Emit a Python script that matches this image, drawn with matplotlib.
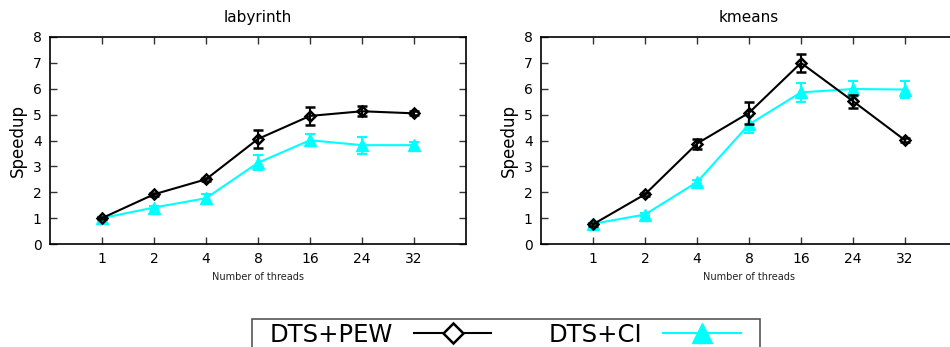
import matplotlib
matplotlib.use("Agg")
import matplotlib.pyplot as plt
from matplotlib.lines import Line2D
from matplotlib.patches import Rectangle

plt.rcParams['font.family'] = ['DejaVu Sans']

threads = ["1", "2", "4", "8", "16", "24", "32"]

lab_pew = [1.0, 1.92, 2.50, 4.06, 4.95, 5.13, 5.05]
lab_pew_err = [0.05, 0.07, 0.07, 0.36, 0.36, 0.19, 0.08]
lab_ci = [1.0, 1.41, 1.77, 3.14, 4.01, 3.82, 3.82]
lab_ci_err = [0.05, 0.05, 0.18, 0.29, 0.23, 0.33, 0.14]

km_pew = [0.76, 1.92, 3.88, 5.07, 7.0, 5.52, 4.01]
km_pew_err = [0.05, 0.05, 0.19, 0.42, 0.35, 0.25, 0.07]
km_ci = [0.78, 1.14, 2.39, 4.62, 5.86, 5.99, 5.97]
km_ci_err = [0.05, 0.05, 0.07, 0.32, 0.37, 0.30, 0.34]

titles = ["labyrinth", "kmeans"]
series_names = ["DTS+PEW", "DTS+CI"]
CYAN = "#00ffff"

fig = plt.figure(figsize=(9.5, 3.47), dpi=100)
ax1 = fig.add_axes([50/950, 103/347, 416/950, 207/347])
ax2 = fig.add_axes([541/950, 103/347, 416/950, 207/347])

xs = list(range(1, len(threads) + 1))
for ax, title, pew, pewe, ci, cie in [
    (ax1, titles[0], lab_pew, lab_pew_err, lab_ci, lab_ci_err),
    (ax2, titles[1], km_pew, km_pew_err, km_ci, km_ci_err),
]:
    ax.errorbar(xs, pew, yerr=pewe, color="black", lw=1.5, marker="D",
                ms=5.5, mfc="none", mec="black", mew=1.8, capsize=3.5,
                elinewidth=1.5, capthick=1.5, zorder=3)
    ax.errorbar(xs, ci, yerr=cie, color=CYAN, lw=1.5, marker="^",
                ms=8, mfc=CYAN, mec=CYAN, capsize=3.5,
                elinewidth=1.5, capthick=1.5, zorder=2)
    ax.set_xlim(0, 8)
    ax.set_ylim(0, 8)
    ax.set_xticks(xs)
    ax.set_xticklabels(threads)
    ax.set_yticks(range(0, 9))
    ax.tick_params(direction="in", top=True, right=True, length=5,
                   width=1, labelsize=10, pad=6, color="#333333")
    ax.tick_params(axis="x", pad=6)
    for sp in ax.spines.values():
        sp.set_linewidth(1.2)
    ax.set_title(title, fontsize=11, pad=11)
    ax.set_ylabel("Speedup", fontsize=12, labelpad=4)
    ax.set_xlabel("Number of threads", fontsize=7, labelpad=4, color="#222222")

# Legend (contents without frame, frame drawn separately)
h1 = Line2D([], [], color="black", lw=1.5, marker="D", ms=10, mfc="white",
            mec="black", mew=1.8)
h2 = Line2D([], [], color=CYAN, lw=1.5, marker="^", ms=15, mfc=CYAN, mec=CYAN)
leg = fig.legend([h1, h2], series_names, loc="upper left",
                 bbox_to_anchor=(266/950, 1 - 319/347),
                 ncol=2, markerfirst=False, fontsize=17.5,
                 handlelength=3.2, handletextpad=0.85, columnspacing=2.35,
                 borderpad=0.15, borderaxespad=0, frameon=False)
fig.add_artist(Rectangle((252/950, -0.1), 508/950, (347 - 319)/347 + 0.1,
                         transform=fig.transFigure, fill=False,
                         ec="#555555", lw=1.2, clip_on=False))

fig.savefig("out.png", dpi=100)
